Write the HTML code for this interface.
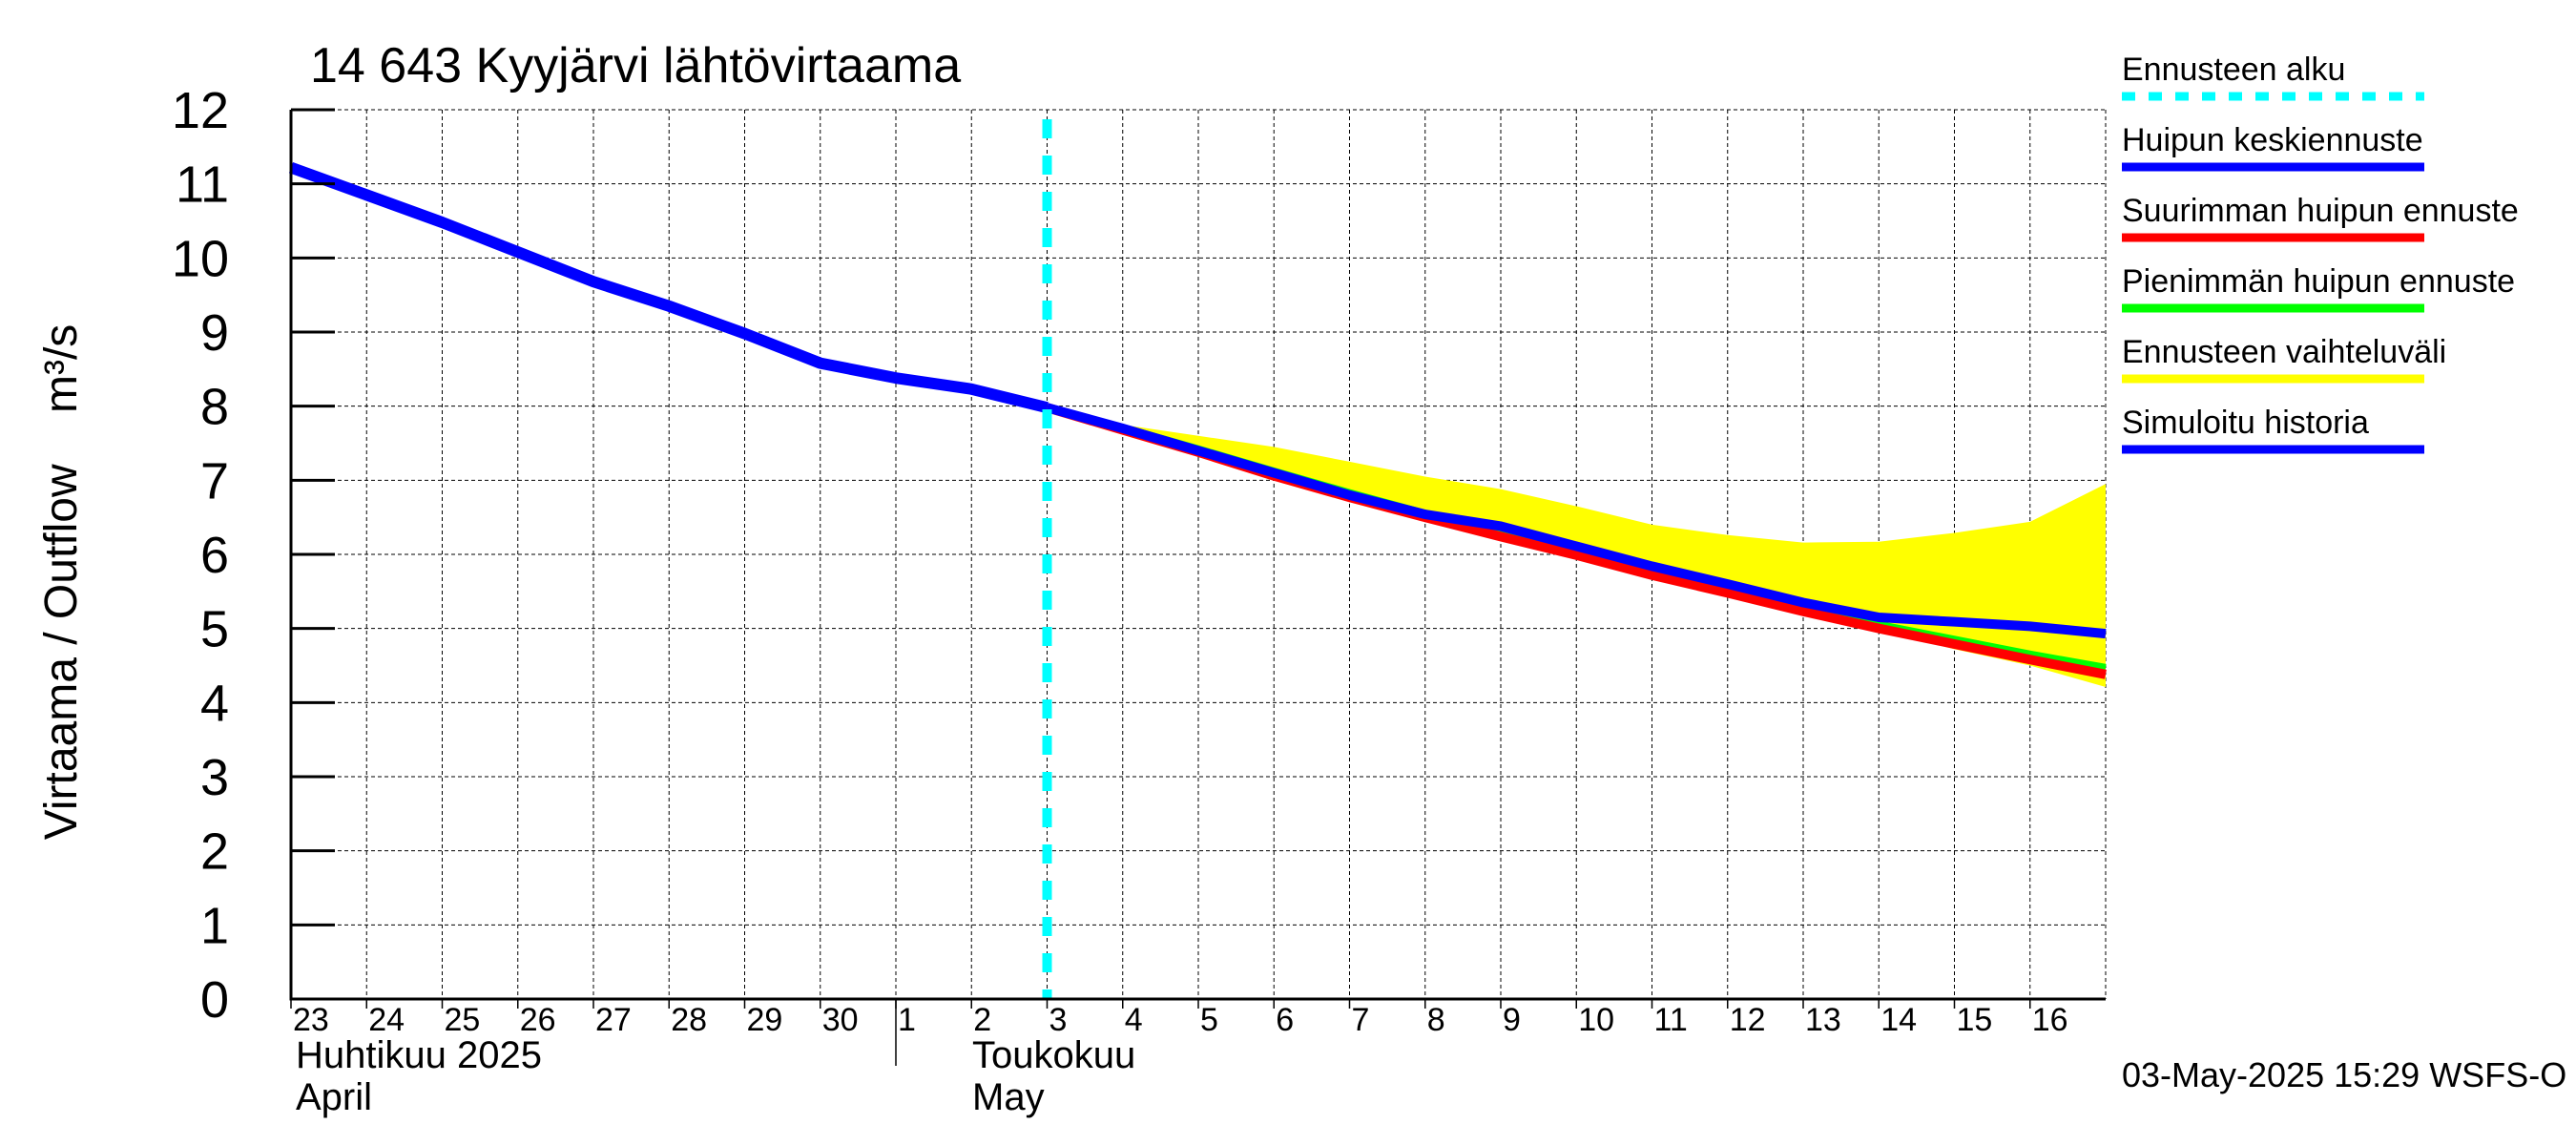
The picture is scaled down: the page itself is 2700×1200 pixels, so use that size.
<!DOCTYPE html>
<html><head><meta charset="utf-8"><style>
html,body{margin:0;padding:0;background:#fff;}
svg{display:block;font-family:"Liberation Sans",sans-serif;}
</style></head><body>
<svg id="chart" width="2700" height="1200" viewBox="0 0 2700 1200" xmlns="http://www.w3.org/2000/svg">
<rect width="2700" height="1200" fill="#fff"/>
<text x="325" y="86" font-size="52">14 643 Kyyjärvi lähtövirtaama</text>
<g id="grid"></g>
<g id="band"></g>
<g id="lines"></g>
<g id="axes"></g>
<text transform="translate(80,610) rotate(-90)" text-anchor="middle" font-size="48">Virtaama / Outflow &#160;&#160; m³/s</text>
<text x="310" y="1119" font-size="40">Huhtikuu  2025</text>
<text x="310" y="1163" font-size="40">April</text>
<text x="1019" y="1119" font-size="40">Toukokuu</text>
<text x="1019" y="1163" font-size="40">May</text>
<line x1="939" y1="1047" x2="939" y2="1117" stroke="#000" stroke-width="1.5"/>
<g id="legend"></g>
<text x="2224" y="1139" font-size="36">03-May-2025 15:29 WSFS-O</text>
</svg>
<script>
const dayLabels = ["23","24","25","26","27","28","29","30","1","2","3","4","5","6","7","8","9","10","11","12","13","14","15","16"];
const yTicks = [0,1,2,3,4,5,6,7,8,9,10,11,12];
const histDays = [0,1,2,3,4,5,6,7,8,9,10];
const histValues = [11.22,10.85,10.48,10.08,9.68,9.35,8.98,8.58,8.38,8.23,7.98];
const fcDays = [10,11,12,13,14,15,16,17,18,19,20,21,22,23,24];
const meanValues = [7.98,7.7,7.4,7.1,6.8,6.54,6.38,6.11,5.84,5.6,5.35,5.15,5.09,5.03,4.93];
const maxValues = [7.98,7.68,7.38,7.06,6.77,6.5,6.24,5.99,5.72,5.48,5.23,5.0,4.79,4.58,4.38];
const minValues = [7.98,7.71,7.42,7.12,6.83,6.55,6.29,6.03,5.77,5.52,5.27,5.05,4.85,4.65,4.47];
const bandUpper = [7.98,7.75,7.6,7.45,7.25,7.05,6.88,6.65,6.4,6.26,6.16,6.17,6.29,6.44,6.95];
const bandLower = [7.98,7.68,7.38,7.06,6.77,6.48,6.22,5.97,5.7,5.46,5.21,4.98,4.72,4.5,4.21];
const forecastStartDay = 10;
const legendLabels = ["Ennusteen alku","Huipun keskiennuste","Suurimman huipun ennuste","Pienimmän huipun ennuste","Ennusteen vaihteluväli","Simuloitu historia"];
const legendColors = ["#00ffff","#0000ff","#ff0000","#00ff00","#ffff00","#0000ff"];

const NS="http://www.w3.org/2000/svg";
const X0=305,X1=2207,Y0=1047,Y1=115,NDAYS=24,YMAX=12;
const xs=d=>X0+(X1-X0)*d/NDAYS;
const ys=v=>Y0-(Y0-Y1)*v/YMAX;
function mk(tag,parent,attrs){const e=document.createElementNS(NS,tag);for(const k in attrs)e.setAttribute(k,attrs[k]);parent.appendChild(e);return e;}
const grid=document.getElementById('grid'),axes=document.getElementById('axes'),band=document.getElementById('band'),lines=document.getElementById('lines'),legend=document.getElementById('legend');

yTicks.forEach(v=>{
  const y=ys(v);
  if(v>0){const g=mk('line',grid,{x1:X0,y1:y,x2:X1,y2:y,stroke:'#000','stroke-width':1,'stroke-dasharray':'4,3'});
  
  }
  const t=mk('line',axes,{x1:X0,y1:y,x2:X0+46,y2:y,stroke:'#000','stroke-width':3});
  
  
  const l=mk('text',axes,{x:240,y:y+19,'text-anchor':'end','font-size':54});
  l.textContent=v;
  
  
});
for(let d=1;d<=NDAYS;d++){
  const x=xs(d);
  const g=mk('line',grid,{x1:x,y1:Y1,x2:x,y2:Y0,stroke:'#000','stroke-width':1,'stroke-dasharray':'4,3'});
  
  
}
dayLabels.forEach((s,i)=>{
  const x=xs(i);
  const t=mk('line',axes,{x1:x,y1:Y0,x2:x,y2:Y0+10,stroke:'#000','stroke-width':1.5});
  
  
  const l=mk('text',axes,{x:x+2,y:1080,'font-size':34});
  l.textContent=s;
  
  
});
const ax=mk('path',axes,{d:`M${X0},${Y1} V${Y0} H${X1}`,fill:'none',stroke:'#000','stroke-width':3});



let bp=fcDays.map((d,i)=>`${xs(d)},${ys(bandUpper[i])}`);
for(let i=fcDays.length-1;i>=0;i--)bp.push(`${xs(fcDays[i])},${ys(bandLower[i])}`);
const poly=mk('polygon',band,{points:bp.join(' '),fill:'#ffff00'});



function line(days,vals,color,w,name){
  const p=mk('polyline',lines,{points:days.map((d,i)=>`${xs(d)},${ys(vals[i])}`).join(' '),fill:'none',stroke:color,'stroke-width':w,'stroke-linejoin':'round'});
  
  
}
line(fcDays,minValues,'#00ff00',8,'min-peak-forecast-line');
line(fcDays,maxValues,'#ff0000',10,'max-peak-forecast-line');
line(fcDays,meanValues,'#0000ff',10,'mean-peak-forecast-line');
line(histDays,histValues,'#0000ff',12,'simulated-history-line');
const fx=xs(forecastStartDay);
const cy=mk('line',lines,{x1:fx,y1:Y1+10,x2:fx,y2:Y0,stroke:'#00ffff','stroke-width':10,'stroke-dasharray':'20,18'});



legendLabels.forEach((s,i)=>{
  const yb=84+74*i;
  const t=mk('text',legend,{x:2224,y:yb,'font-size':34});
  t.textContent=s;
  
  
  const a={x1:2224,y1:yb+17,x2:2541,y2:yb+17,stroke:legendColors[i],'stroke-width':9};
  if(i===0)a['stroke-dasharray']='14,14';
  const l=mk('line',legend,a);
  
  
});
</script>
</body></html>
